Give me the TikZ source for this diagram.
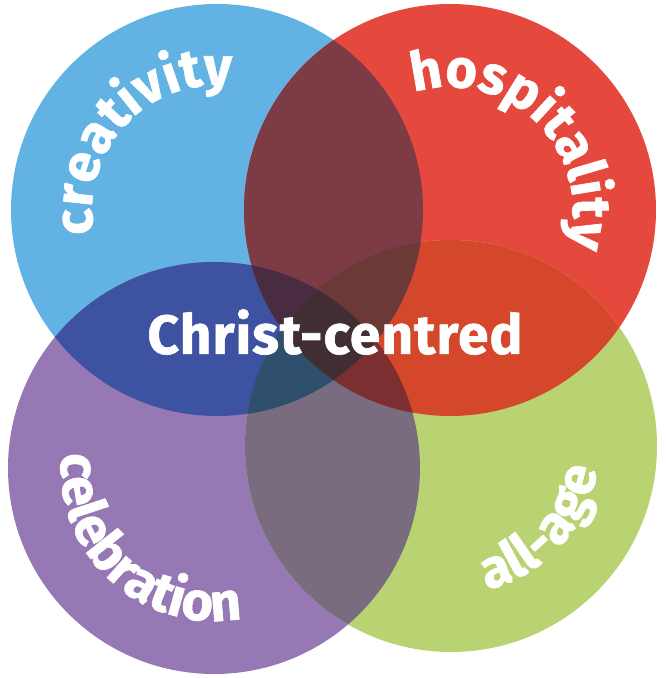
\documentclass[tikz,border=0pt]{standalone}
\usepackage{fontspec}
\setmainfont{Fira Sans}
\newfontfamily\lblfont[FakeBold=1.2,LetterSpace=2]{Fira Sans Bold}
\usetikzlibrary{decorations.text}
\definecolor{cB}{HTML}{62B2E4}
\definecolor{cR}{HTML}{E5483C}
\definecolor{cP}{HTML}{9678B4}
\definecolor{cG}{HTML}{B9D373}
\definecolor{cBR}{HTML}{7D3B46}
\definecolor{cBP}{HTML}{3D53A2}
\definecolor{cRG}{HTML}{D4472A}
\definecolor{cPG}{HTML}{786C7E}
\definecolor{cBG}{HTML}{2F4F6C}
\definecolor{cRP}{HTML}{7D2E30}
\definecolor{cBRP}{HTML}{4A2C42}
\definecolor{cBRG}{HTML}{6B3A36}
\definecolor{cBPG}{HTML}{2F4F6C}
\definecolor{cRPG}{HTML}{7D2E30}
\definecolor{cALL}{HTML}{402E33}
\tikzset{
  curvetext/.style={decorate, decoration={text along path, text align=center, text color=white, text={|\lblfont\fontsize{54}{60}\selectfont|#1}}}
}
\begin{document}
\begin{tikzpicture}[x=1pt,y=1pt]
\useasboundingbox (0,0) rectangle (666,678);
\fill[white] (0,0) rectangle (666,678);
\coordinate (B) at (217,468);
\coordinate (R) at (450,468);
\coordinate (P) at (214,210);
\coordinate (G) at (451,232);
\def\rr{206}
% singles
\fill[cB] (B) circle (\rr);
\fill[cR] (R) circle (\rr);
\fill[cP] (P) circle (\rr);
\fill[cG] (G) circle (\rr);
% pairs
\begin{scope}\clip (B) circle (\rr); \fill[cBR] (R) circle (\rr); \end{scope}
\begin{scope}\clip (B) circle (\rr); \fill[cBP] (P) circle (\rr); \end{scope}
\begin{scope}\clip (R) circle (\rr); \fill[cRG] (G) circle (\rr); \end{scope}
\begin{scope}\clip (P) circle (\rr); \fill[cPG] (G) circle (\rr); \end{scope}
\begin{scope}\clip (B) circle (\rr); \fill[cBG] (G) circle (\rr); \end{scope}
\begin{scope}\clip (R) circle (\rr); \fill[cRP] (P) circle (\rr); \end{scope}
% triples
\begin{scope}\clip (B) circle (\rr); \clip (R) circle (\rr); \fill[cBRP] (P) circle (\rr); \end{scope}
\begin{scope}\clip (B) circle (\rr); \clip (R) circle (\rr); \fill[cBRG] (G) circle (\rr); \end{scope}
\begin{scope}\clip (B) circle (\rr); \clip (P) circle (\rr); \fill[cBPG] (G) circle (\rr); \end{scope}
\begin{scope}\clip (R) circle (\rr); \clip (P) circle (\rr); \fill[cRPG] (G) circle (\rr); \end{scope}
% all four
\begin{scope}\clip (B) circle (\rr); \clip (R) circle (\rr); \clip (P) circle (\rr); \fill[cALL] (G) circle (\rr); \end{scope}
% labels
\node[text=white, font=\lblfont\fontsize{55}{60}\selectfont] (centre) at (335,346) {Christ-centred};
\path[curvetext={creativity}] (B) ++(192:125) arc[start angle=192, end angle=82, radius=125];
\path[curvetext={hospitality}] (R) ++(102:123) arc[start angle=102, end angle=-12, radius=123];
\path[curvetext={celebration}] (P) ++(170:153) arc[start angle=170, end angle=285, radius=153];
\path[curvetext={all-age}] (G) ++(-90:148) arc[start angle=-90, end angle=5, radius=148];
\end{tikzpicture}
\end{document}
